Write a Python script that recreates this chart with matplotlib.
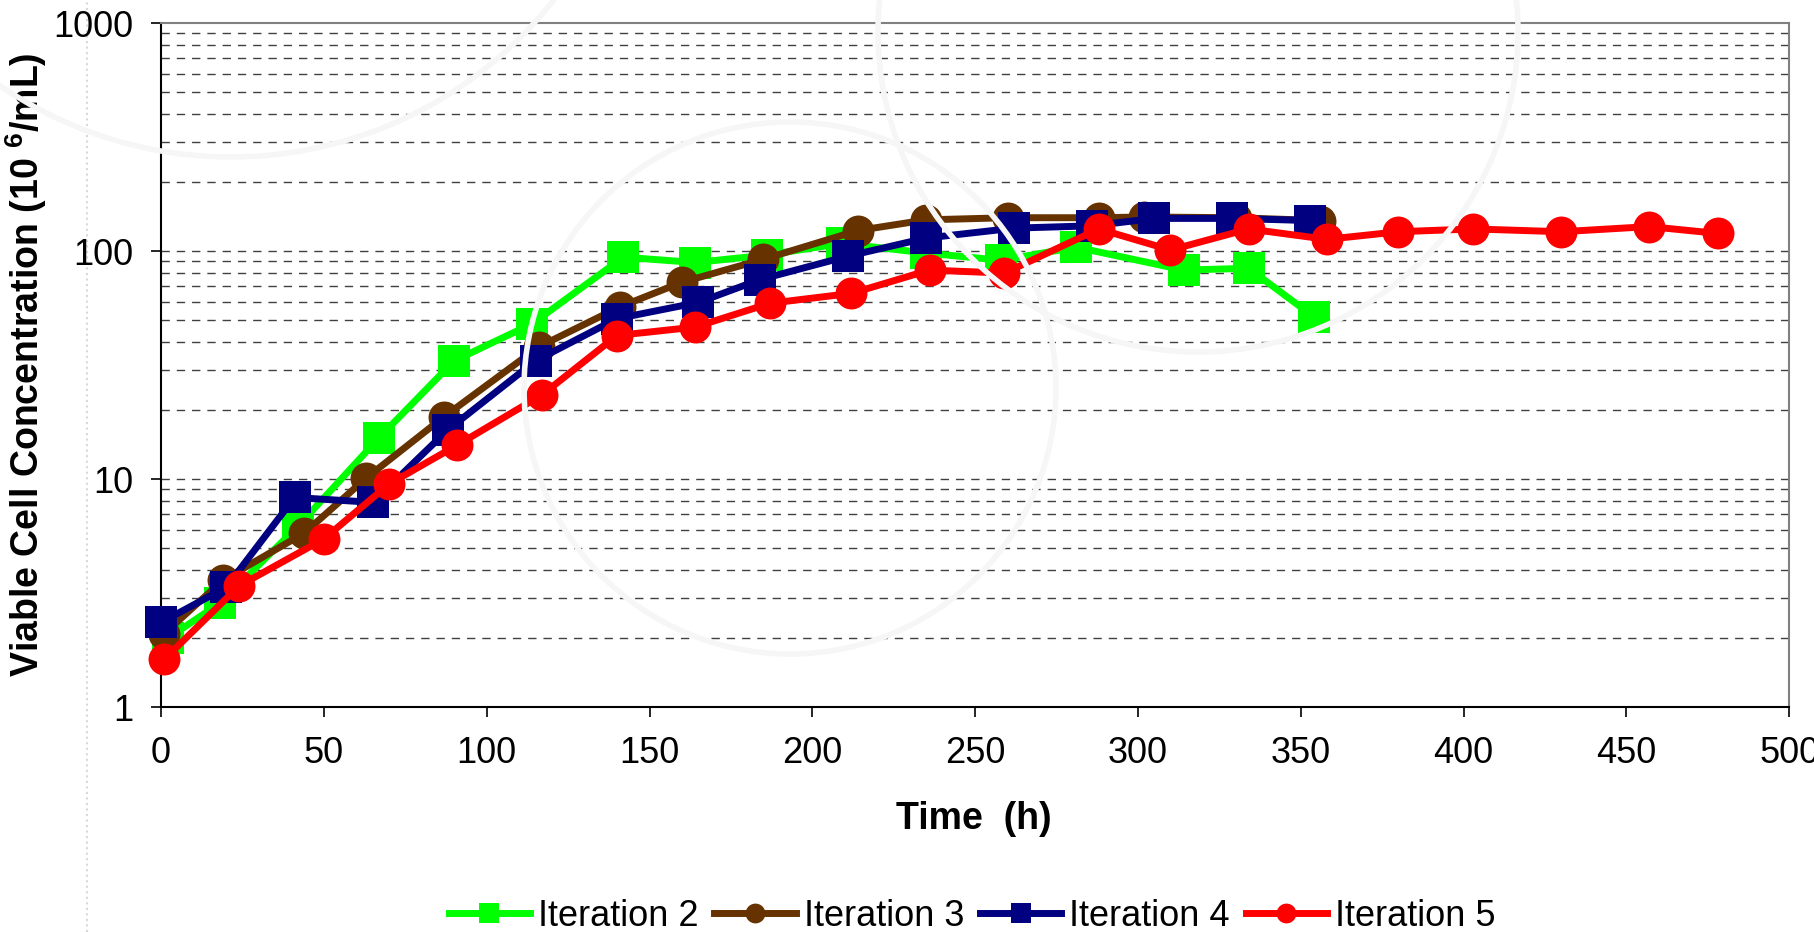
import matplotlib
matplotlib.use("Agg")
import matplotlib.pyplot as plt
from matplotlib.patches import Ellipse
from matplotlib.lines import Line2D

# Fonts close to the Arial look of the original spreadsheet chart
plt.rcParams['font.family'] = ['Liberation Sans', 'DejaVu Sans']
plt.rcParams['mathtext.fontset'] = 'custom'
plt.rcParams['mathtext.rm'] = 'Liberation Sans'
plt.rcParams['mathtext.bf'] = 'Liberation Sans:bold'

# Culture data: time (h) and viable cells (10^6/mL)
timeIter2  = [2, 18, 42, 67, 90, 114, 142, 164, 186, 209, 235, 258, 281, 314, 334, 354]
cellsIter2 = [2.0, 2.85, 6.2, 15.2, 33, 48, 94, 89, 96, 108, 98, 91, 104, 82.5, 84, 51.5]

timeIter3  = [1, 19, 44, 63, 87, 116, 141, 160, 185, 214, 235, 260, 288, 302, 330, 356]
cellsIter3 = [2.1, 3.6, 5.8, 10.1, 18.8, 38, 57, 73, 92, 123, 137, 140, 140, 141, 140, 136]

timeIter4  = [0, 20, 41, 65, 88, 115, 140, 165, 184, 211, 235, 262, 286, 305, 329, 353]
cellsIter4 = [2.35, 3.35, 8.3, 7.9, 16.4, 33, 50.5, 59.5, 75, 95, 114, 126, 129, 139, 139, 136]

timeIter5  = [1, 24, 50, 70, 91, 117, 140, 164, 187, 212, 236, 259, 288, 310, 334, 358, 380, 403, 430, 457, 478]
cellsIter5 = [1.62, 3.4, 5.46, 9.5, 14.1, 23.4, 42.6, 46.4, 59, 65.2, 82.5, 80, 125, 101, 125, 112.5, 121.5, 125, 121.5, 128, 119.5]

seriesNames  = ["Iteration 2", "Iteration 3", "Iteration 4", "Iteration 5"]
seriesColors = ["#00ff00", "#663300", "#000080", "#ff0000"]
seriesMarks  = ["s", "o", "s", "o"]

xTicks = [0, 50, 100, 150, 200, 250, 300, 350, 400, 450, 500]
yTicks = [1, 10, 100, 1000]
yGrid  = [m * d for d in (1, 10, 100) for m in range(2, 10)] + [10, 100]

fig = plt.figure(figsize=(18.14, 9.32), dpi=100)
ax = fig.add_axes([0.0888, 0.2414, 0.8975, 0.7339])
ax.set_facecolor('none')

# Faint watermark rings behind the plot (page background of the source)
for cx, cy, r in [(231, -253, 410), (790, 388, 266), (1198, 32, 320)]:
    fig.patches.append(Ellipse((cx / 1814, 1 - cy / 932), 2 * r / 1814, 2 * r / 932,
                               transform=fig.transFigure, fill=False,
                               edgecolor='#f6f6f6', linewidth=4, zorder=0))
fig.add_artist(Line2D([87 / 1814, 87 / 1814], [0, 1], transform=fig.transFigure,
                      color='#d8d8d8', linestyle=':', linewidth=1.5, zorder=0))

# Dashed horizontal gridlines at every log step
for g in yGrid:
    ax.axhline(g, color='#404040', linewidth=1.0, dashes=(6, 5), zorder=1)

allTimes = [timeIter2, timeIter3, timeIter4, timeIter5]
allCells = [cellsIter2, cellsIter3, cellsIter4, cellsIter5]
for t, c, name, col, mk in zip(allTimes, allCells, seriesNames, seriesColors, seriesMarks):
    ax.plot(t, c, color=col, marker=mk, markersize=23, linewidth=5,
            markeredgewidth=0, label=name, zorder=3, clip_on=False)

ax.set_yscale('log')
ax.set_xlim(0, 500)
ax.set_ylim(1, 1000)
ax.set_xticks(xTicks)
ax.set_yticks(yTicks)
ax.set_yticklabels([str(v) for v in yTicks])
ax.yaxis.set_minor_locator(matplotlib.ticker.NullLocator())
ax.tick_params(axis='both', direction='out', length=7, width=1.2, labelsize=26)
ax.tick_params(axis='y', pad=13)
ax.tick_params(axis='x', pad=14)

for side in ['left', 'bottom']:
    ax.spines[side].set_color('black')
    ax.spines[side].set_linewidth(1.5)
for side in ['top', 'right']:
    ax.spines[side].set_color('#808080')
    ax.spines[side].set_linewidth(1.5)

ax.set_xlabel('Time  (h)', fontsize=27, fontweight='bold')
ax.xaxis.set_label_coords(0.499, -0.137)
ax.set_ylabel('Viable Cell Concentration (10 $\\mathbf{^{6}}$/mL)', fontsize=27, fontweight='bold')
ax.yaxis.set_label_coords(-0.069, 0.5)

fig.legend(loc='center', bbox_to_anchor=(972 / 1814, 1 - 916 / 932), ncol=4, frameon=False,
           fontsize=26, handlelength=2.25, handletextpad=0.22, columnspacing=0.44,
           markerscale=0.62)

fig.savefig('out.png', dpi=100)
